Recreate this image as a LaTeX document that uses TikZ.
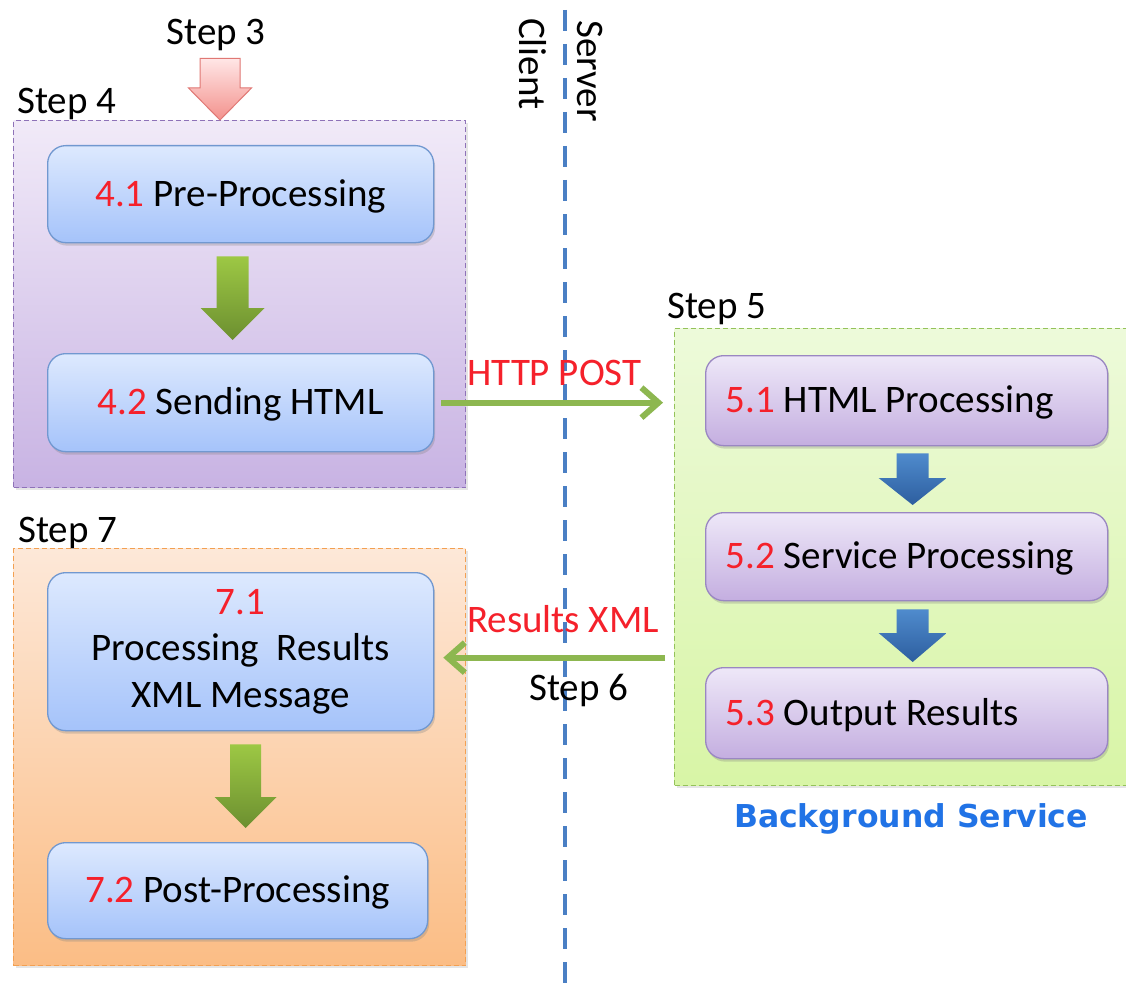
\documentclass[tikz,border=0pt]{standalone}
\usepackage{fontspec}
\setmainfont{Carlito}
\newfontfamily\svcfont{DejaVu Sans}
\usetikzlibrary{calc,arrows.meta,shadows}

\definecolor{numred}{HTML}{F5212B}
\definecolor{purpleTop}{HTML}{F1EAF8}
\definecolor{purpleBot}{HTML}{C8B3E3}
\definecolor{purpleEdge}{HTML}{8E72B8}
\definecolor{greenTop}{HTML}{EDFADA}
\definecolor{greenBot}{HTML}{D8F5A6}
\definecolor{greenEdge}{HTML}{94C25A}
\definecolor{orangeTop}{HTML}{FDE8D8}
\definecolor{orangeBot}{HTML}{FBBD85}
\definecolor{orangeEdge}{HTML}{F3A052}
\definecolor{stepTop}{HTML}{DDE9FE}
\definecolor{stepBot}{HTML}{A5C3FA}
\definecolor{stepEdge}{HTML}{7198D0}
\definecolor{taskTop}{HTML}{EEE8F8}
\definecolor{taskBot}{HTML}{C4AEE0}
\definecolor{taskEdge}{HTML}{9A87C2}
\definecolor{arrowGreenTop}{HTML}{9DC844}
\definecolor{arrowGreenBot}{HTML}{6C8F30}
\definecolor{arrowBlueTop}{HTML}{4F8BCD}
\definecolor{arrowBlueBot}{HTML}{2D5E9F}
\definecolor{pinkTop}{HTML}{FFE6E6}
\definecolor{pinkBot}{HTML}{F3918C}
\definecolor{pinkEdge}{HTML}{E07874}
\definecolor{linkGreen}{HTML}{8DB750}
\definecolor{dividerBlue}{HTML}{4A7FC4}
\definecolor{svcBlue}{HTML}{2173E6}

\tikzset{
  x=1pt, y=-1pt,
  every node/.style={font=\fontsize{39}{46.5}\selectfont},
  caption/.style={inner sep=0pt},
  container/.style={draw, dash pattern=on 5pt off 3pt, line width=1.2pt,
    inner sep=0pt, anchor=north west,
    drop shadow={shadow xshift=2pt, shadow yshift=-2pt, opacity=0.2}},
  purplezone/.style={container, draw=purpleEdge, top color=purpleTop, bottom color=purpleBot},
  greenzone/.style={container, draw=greenEdge, top color=greenTop, bottom color=greenBot},
  orangezone/.style={container, draw=orangeEdge, top color=orangeTop, bottom color=orangeBot},
  boxbase/.style={rounded corners=18pt, line width=1.3pt, anchor=north west,
    drop shadow={shadow xshift=1.5pt, shadow yshift=-3pt, opacity=0.3}},
  stepbox/.style={boxbase, draw=stepEdge, top color=stepTop, bottom color=stepBot,
    align=center},
  onelinetext/.style={text height=31pt, text depth=7pt},
  taskbox/.style={boxbase, draw=taskEdge, top color=taskTop, bottom color=taskBot,
    inner xsep=20pt, minimum width=402pt, onelinetext},
  greenblock/.style={top color=arrowGreenTop, bottom color=arrowGreenBot},
  blueblock/.style={top color=arrowBlueTop, bottom color=arrowBlueBot},
  pinkblock/.style={top color=pinkTop, bottom color=pinkBot, draw=pinkEdge, line width=1pt},
  flowline/.style={draw=linkGreen, line width=6pt,
    -{Straight Barb[length=17pt, width=30pt]}},
  divider/.style={draw=dividerBlue, line width=4pt, dash pattern=on 21pt off 13pt},
}

% left-aligned label inside a server-side box
\newcommand\tasklabel[1]{\makebox[362pt][l]{#1}}

% Block arrow pointing down:
% #1 start point, #2 end point, #3 style, #4 x offset, #5 top gap,
% #6 tip gap, #7 shaft half-width, #8 head half-width, #9 head length
\newcommand\dropArrow[9]{%
  \path[#3] let \p1=#1, \p2=#2 in
    ({\x1+(#4pt)-(#7pt)},{\y1-(#5pt)}) -- ({\x1+(#4pt)+(#7pt)},{\y1-(#5pt)})
    -- ({\x1+(#4pt)+(#7pt)},{\y2+(#6pt)+(#9pt)}) -- ({\x1+(#4pt)+(#8pt)},{\y2+(#6pt)+(#9pt)})
    -- ({\x1+(#4pt)},{\y2+(#6pt)})
    -- ({\x1+(#4pt)-(#8pt)},{\y2+(#6pt)+(#9pt)}) -- ({\x1+(#4pt)-(#7pt)},{\y2+(#6pt)+(#9pt)})
    -- cycle;}

\begin{document}
\begin{tikzpicture}
\useasboundingbox (0,0) rectangle (1126,987);
\clip (0,0) rectangle (1126,987);
\fill[white] (0,0) rectangle (1126,987);

% client / server divider
\coordinate (divtop) at (565,10);
\coordinate (divbot) at (565,995);
\draw[divider] (divtop) -- (divbot);
\node[caption, rotate=-90, anchor=base west] (client) at (519,18) {Client};
\node[caption, rotate=-90, anchor=base west] (server) at (577,20) {Server};

% zones
\node[purplezone, minimum width=452pt, minimum height=367pt] (g4) at (13,120) {};
\node[greenzone, minimum width=470pt, minimum height=457pt] (g5) at (674,328) {};
\node[orangezone, minimum width=452pt, minimum height=417pt] (g7) at (13,548) {};

% zone captions
\node[caption, anchor=base] (step3) at (216,45) {Step 3};
\node[caption, anchor=base west] (step4) at (17,114) {Step 4};
\node[caption, anchor=base west] (step5) at (667,318) {Step 5};
\node[caption, anchor=base west] (step7) at (18,542) {Step 7};

% client side steps
\node[stepbox, onelinetext, minimum width=386pt, minimum height=97pt] (b41) at (47,145)
  {\textcolor{numred}{4.1} Pre-Processing};
\node[stepbox, onelinetext, minimum width=386pt, minimum height=98pt] (b42) at (47,353)
  {\textcolor{numred}{4.2} Sending HTML};
\node[stepbox, minimum width=386pt, minimum height=158pt] (b71) at (47,572)
  {\textcolor{numred}{7.1}\\Processing\ \ Results\\XML Message};
\node[stepbox, onelinetext, minimum width=380pt, minimum height=96pt] (b72) at (47,842)
  {\textcolor{numred}{7.2} Post-Processing};

% server side steps
\node[taskbox, minimum height=90pt] (b51) at (705,355)
  {\tasklabel{\textcolor{numred}{5.1} HTML Processing}};
\node[taskbox, minimum height=88pt] (b52) at (705,512)
  {\tasklabel{\textcolor{numred}{5.2} Service Processing}};
\node[taskbox, minimum height=91pt] (b53) at (705,667)
  {\tasklabel{\textcolor{numred}{5.3} Output Results}};

% block arrows between steps
\dropArrow{(step3.south)}{(g4.north)}{pinkblock}{4}{7}{0}{20}{31.5}{32}
\dropArrow{(b41.south)}{(b42.north)}{greenblock}{-8}{13}{13}{16}{32}{32}
\dropArrow{(b71.south)}{(b72.north)}{greenblock}{5}{13}{14}{15.5}{31}{31}
\dropArrow{(b51.south)}{(b52.north)}{blueblock}{6}{7}{7}{16}{34}{27}
\dropArrow{(b52.south)}{(b53.north)}{blueblock}{6}{8}{5}{16}{34}{29}

% messages across the divider
\draw[flowline] ([xshift=7pt]b42.east) -- ([xshift=-11pt]g5.west |- b42.east);
\draw[flowline] ([xshift=-9pt,yshift=-6pt]g5.west |- b71.east)
  -- ([xshift=9pt,yshift=-6pt]b71.east);
\node[caption, anchor=base west, text=numred] (post) at (467,385) {HTTP POST};
\node[caption, anchor=base west, text=numred] (xmlres) at (467,632) {Results XML};
\node[caption, anchor=base west] (step6) at (529,700) {Step 6};

% service caption
\node[caption, anchor=base, text=svcBlue, font=\svcfont\bfseries\fontsize{31.5}{36}\selectfont]
  (bgsvc) at (911,827) {Background Service};
\end{tikzpicture}
\end{document}
